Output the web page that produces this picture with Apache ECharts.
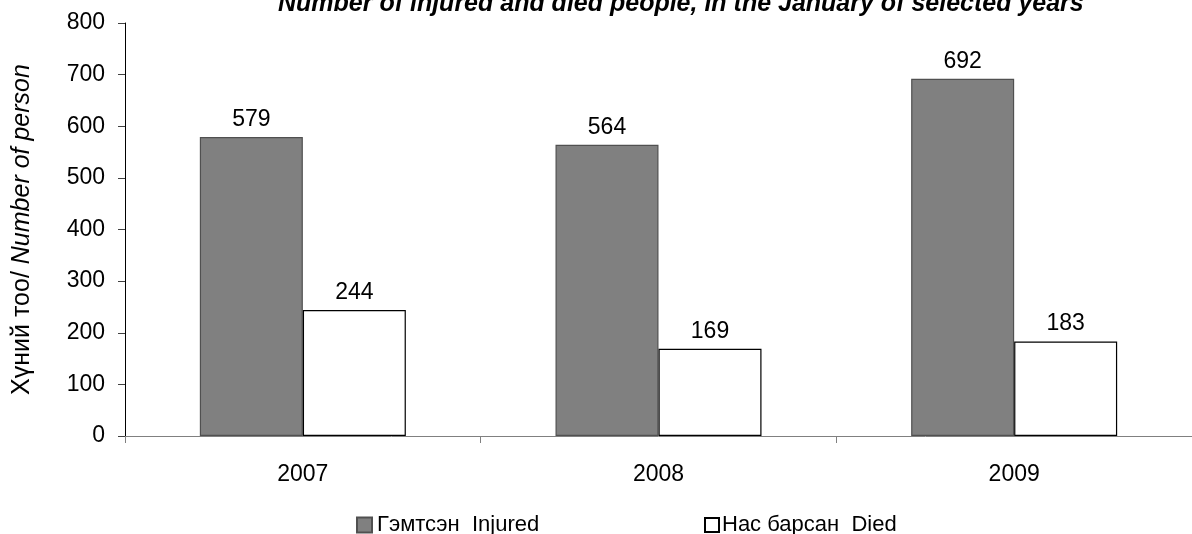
<!DOCTYPE html>
<html>
<head>
<meta charset="utf-8">
<script src="https://cdn.jsdelivr.net/npm/echarts@6/dist/echarts.min.js"></script>
<style>
html,body{margin:0;padding:0;background:#fff;}
#c{width:1192px;height:534px;}
</style>
</head>
<body>
<div id="c"></div>
<script>
const categories = ['2007', '2008', '2009'];
const injured = [579, 564, 692];
const died = [244, 169, 183];
const yTicks = [0, 100, 200, 300, 400, 500, 600, 700, 800];
const seriesNames = ['Гэмтсэн  Injured', 'Нас барсан  Died'];
const titleText = 'Number of injured and died people, in the January of selected years';

const FONT = '"Liberation Sans", Arial, sans-serif';
const chart = echarts.init(document.getElementById('c'));
chart.setOption({
  animation: false,
  backgroundColor: '#fff',
  title: {
    text: titleText,
    left: 273,
    top: -13,
    textStyle: {fontFamily: FONT, fontSize: 25, fontStyle: 'italic', fontWeight: 'bold', color: '#000'}
  },
  legend: [{
    data: [seriesNames[0]],
    left: 351, top: 509,
    itemWidth: 15, itemHeight: 15,
    icon: 'rect',
    textStyle: {fontFamily: FONT, fontSize: 22, color: '#000', padding: [0,0,0,0]}
  }, {
    data: [seriesNames[1]],
    left: 699, top: 509,
    itemWidth: 14, itemHeight: 14,
    icon: 'rect',
    textStyle: {fontFamily: FONT, fontSize: 22, color: '#000', padding: [0,0,0,-2]}
  }],
  grid: {left: 125, top: 23, width: 1080, height: 413, containLabel: false},
  xAxis: {
    type: 'category',
    data: categories,
    axisLine: {lineStyle: {color: '#808080', width: 1}},
    axisTick: {show: true, length: 7, lineStyle: {color: '#808080'}},
    axisLabel: {fontFamily: FONT, fontSize: 23, color: '#000', margin: 27}
  },
  yAxis: {
    type: 'value',
    min: yTicks[0], max: yTicks[yTicks.length - 1], interval: 100,
    name: '{a|Хүний тоо/ }{b|Number of person}',
    nameLocation: 'middle',
    nameRotate: 90,
    nameGap: 90,
    nameTextStyle: {
      rich: {
        a: {fontFamily: FONT, fontSize: 25, color: '#000'},
        b: {fontFamily: FONT, fontSize: 25, color: '#000', fontStyle: 'italic'}
      }
    },
    splitLine: {show: false},
    axisLine: {show: true, lineStyle: {color: '#000', width: 1}},
    axisTick: {show: true, length: 7, lineStyle: {color: '#404040'}},
    axisLabel: {fontFamily: FONT, fontSize: 23, color: '#000', margin: 20}
  },
  series: [{
    name: seriesNames[0],
    type: 'bar',
    data: injured,
    barWidth: 103,
    barGap: '0%',
    itemStyle: {color: '#808080', borderColor: '#505050', borderWidth: 1.2},
    label: {show: true, position: 'top', distance: 6, fontFamily: FONT, fontSize: 23, color: '#000'}
  }, {
    name: seriesNames[1],
    type: 'bar',
    data: died,
    barWidth: 103,
    itemStyle: {color: '#fff', borderColor: '#000', borderWidth: 1.2},
    label: {show: true, position: 'top', distance: 6, fontFamily: FONT, fontSize: 23, color: '#000'}
  }]
});
</script>
</body>
</html>
